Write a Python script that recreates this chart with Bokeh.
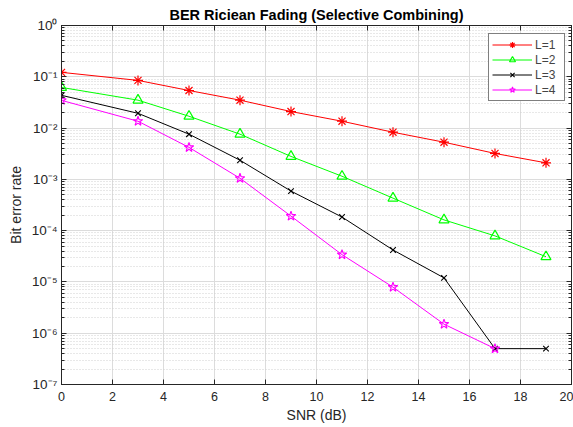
from bokeh.plotting import figure
from bokeh.models import (LogAxis, LinearAxis, FixedTicker, CustomJSTickFormatter,
                          Legend, LegendItem, LogTicker)
from bokeh.embed import file_html
from bokeh.resources import INLINE

# ---- data ----
snr = [0, 3, 5, 7, 9, 11, 13, 15, 17, 19]
ber_L1 = [0.122, 0.085, 0.054, 0.035, 0.021, 0.0136, 0.0083, 0.0053, 0.0032, 0.0021]
ber_L2 = [0.062, 0.035, 0.017, 0.0076, 0.0028, 0.00115, 0.00043, 0.000162, 7.9e-5, 3.1e-5]
ber_L3 = [0.0435, 0.0194, 0.0076, 0.00236, 5.9e-4, 1.84e-4, 4.2e-5, 1.2e-5, 5e-7, 5e-7]
ber_L4 = [0.0347, 0.0136, 0.0042, 0.00105, 1.92e-4, 3.4e-5, 7.9e-6, 1.5e-6, 5e-7]
snr_L4 = [0, 3, 5, 7, 9, 11, 13, 15, 17]
labels = ["L=1", "L=2", "L=3", "L=4"]

x_ticks = [0, 2, 4, 6, 8, 10, 12, 14, 16, 18, 20]

FONT = "Liberation Sans"
AXC = "#262626"

p = figure(width=573, height=427, y_axis_type="log",
           x_range=(0, 20), y_range=(1e-7, 1),
           output_backend="svg", toolbar_location=None,
           min_border_left=61, min_border_right=2,
           min_border_top=25, min_border_bottom=43,
           title="BER Riciean Fading (Selective Combining)")

p.title.align = "center"
p.title.text_font = FONT
p.title.text_font_size = "14.5px"
p.title.text_font_style = "bold"
p.title.text_color = "black"
p.title.standoff = 6
p.title.offset = 0

p.outline_line_color = AXC
p.outline_line_width = 1
p.background_fill_color = "white"

sup = CustomJSTickFormatter(code="""
const m = {'-':'\u207b','0':'\u2070','1':'\u00b9','2':'\u00b2','3':'\u00b3','4':'\u2074','5':'\u2075','6':'\u2076','7':'\u2077','8':'\u2078','9':'\u2079'};
const e = Math.round(Math.log10(tick));
return '10' + String(e).split('').map(c => m[c]).join('');
""")
blank = CustomJSTickFormatter(code="return '';")

# bottom / left axes
xa = p.xaxis[0]
xa.ticker = FixedTicker(ticks=x_ticks)
xa.axis_label = "SNR (dB)"
ya = p.yaxis[0]
ya.ticker = LogTicker(num_minor_ticks=10)
ya.formatter = sup
ya.axis_label = "Bit error rate"

for ax in (xa, ya):
    ax.axis_line_color = AXC
    ax.major_tick_line_color = AXC
    ax.minor_tick_line_color = AXC
    ax.major_tick_in = 5
    ax.major_tick_out = 0
    ax.minor_tick_in = 3
    ax.minor_tick_out = 0
    ax.major_label_text_font = FONT
    ax.major_label_text_font_size = "12.5px"
    ax.major_label_text_color = AXC
    ax.axis_label_text_font = FONT
    ax.axis_label_text_font_size = "14px"
    ax.axis_label_text_font_style = "normal"
    ax.axis_label_text_color = AXC
xa.minor_tick_line_color = None
xa.major_label_standoff = 7
xa.axis_label_standoff = 3
ya.major_label_standoff = 4
ya.axis_label_standoff = 5
ya.major_label_text_font_size = "13.5px"

# top / right axes (box ticks, no labels)
top = LinearAxis(ticker=FixedTicker(ticks=x_ticks), formatter=blank,
                 major_label_text_font_size="1px",
                 major_tick_in=5, major_tick_out=0, minor_tick_line_color=None,
                 axis_line_color=AXC, major_tick_line_color=AXC, major_label_standoff=0)
right = LogAxis(ticker=LogTicker(num_minor_ticks=10), formatter=blank,
                major_label_text_font_size="1px",
                major_tick_in=5, major_tick_out=0, minor_tick_in=3, minor_tick_out=0,
                axis_line_color=AXC, major_tick_line_color=AXC, minor_tick_line_color=AXC,
                major_label_standoff=0)
p.add_layout(top, "above")
p.add_layout(right, "right")

# grids
p.xgrid.ticker = FixedTicker(ticks=x_ticks)
p.xgrid.grid_line_color = "#dcdcdc"
p.ygrid.grid_line_color = "#dcdcdc"
p.ygrid.minor_grid_line_color = "#d0d0d0"
p.ygrid.minor_grid_line_dash = "1 2"

# series
r1 = p.line(snr, ber_L1, line_color="#ff0000", line_width=1)
m1 = p.scatter(snr, ber_L1, marker="asterisk", size=10, line_color="#ff0000", line_width=1.2)
r2 = p.line(snr, ber_L2, line_color="#00ff00", line_width=1)
m2 = p.scatter(snr, ber_L2, marker="triangle", size=10, line_color="#00ff00",
               fill_color=None, line_width=1.2)
r3 = p.line(snr, ber_L3, line_color="black", line_width=1)
m3 = p.scatter(snr, ber_L3, marker="x", size=8, line_color="black", line_width=1.1)
r4 = p.line(snr_L4, ber_L4, line_color="#ff00ff", line_width=1)
m4 = p.scatter(snr_L4, ber_L4, marker="star", size=10, line_color="#ff00ff",
               fill_color=None, line_width=1.1)

legend = Legend(items=[LegendItem(label=labels[0], renderers=[r1, m1]),
                       LegendItem(label=labels[1], renderers=[r2, m2]),
                       LegendItem(label=labels[2], renderers=[r3, m3]),
                       LegendItem(label=labels[3], renderers=[r4, m4])],
                location=(427, 283), margin=0, padding=3, spacing=0,
                glyph_width=40, glyph_height=15, label_height=15, label_width=26,
                label_standoff=3, label_text_font=FONT, label_text_font_size="12px",
                border_line_color="black", border_line_width=1,
                background_fill_color="white", background_fill_alpha=1)
p.add_layout(legend, "center")

open("out.html", "w").write(file_html(p, INLINE))
